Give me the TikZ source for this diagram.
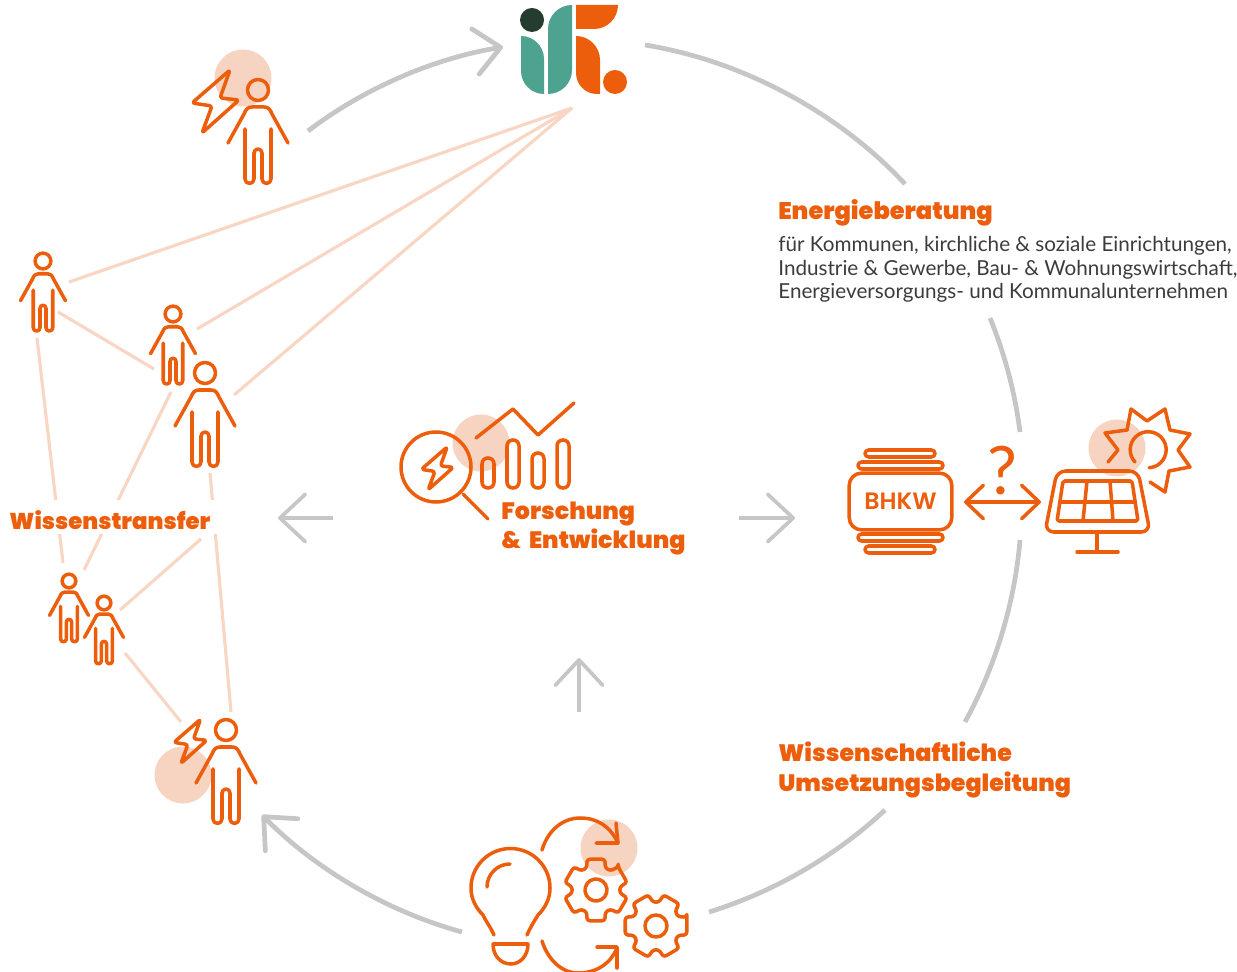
\documentclass[tikz,border=0pt]{standalone}
\usepackage{fontspec}
\setmainfont{Lato}
\newfontfamily\headfont{Poppins Black}
\newfontfamily\labelfont{Poppins SemiBold}
\usetikzlibrary{arrows.meta}
\definecolor{ifforange}{HTML}{EC5E0C}
\definecolor{iffpeach}{HTML}{F7D4C2}
\definecolor{iffline}{HTML}{F9D6C3}
\definecolor{iffgray}{HTML}{C6C6C6}
\definecolor{iffteal}{HTML}{4DA38F}
\definecolor{iffdark}{HTML}{243D30}
\definecolor{ifftext}{HTML}{3C3C3C}
\tikzset{
  icon/.style={ifforange, line width=2pt, line cap=round, line join=round},
  dot/.style={iffpeach, fill},
  peachline/.style={iffline, line width=1.8pt},
  bigarc/.style={iffgray, line width=2.7pt, looseness=0.85},
  smallarrow/.style={iffgray, line width=2.1pt, -{Straight Barb[length=14.5pt,width=27pt,round]}},
  head/.style={ifforange, inner sep=0pt, font=\headfont\fontsize{13.5}{16.7}\selectfont, align=left},
  person/.pic={
    \draw[icon] (0,0) circle (10.5);
    \draw[icon] (-30,53) -- (-14,24) .. controls (-12,19) and (-10,17) .. (-6,17)
      -- (6,17) .. controls (10,17) and (12,19) .. (14,24) -- (30,53);
    \draw[icon] (-13,39) -- (-13,89) arc[start angle=180,end angle=0,radius=4.5]
      -- (-4,63) arc[start angle=180,end angle=360,radius=4]
      -- (4,89) arc[start angle=180,end angle=0,radius=4.5] -- (13,39);
  },
  bolt/.pic={
    \draw[icon, rounded corners=1.5pt] (15,-31) -- (5,-3) -- (24,-1) -- (-13,32) -- (-3,5) -- (-23,2) -- cycle;
  },
  gear/.pic={
    \draw[icon, rounded corners=1.5pt] (-16:32) \foreach \a in {0,60,...,300}
      { -- (\a+16:32) -- (\a+23:24) -- (\a+37:24) -- (\a+44:32) } -- cycle;
    \draw[icon] (0,0) circle (11);
  }
}
\begin{document}
\begin{tikzpicture}[x=0.02cm,y=-0.02cm]
  \useasboundingbox (0,0) rectangle (1237,972);
  % circles behind the icons
  \fill[dot] (243,78) circle (28.5);
  \fill[dot] (183,775) circle (28.5);
  \fill[dot] (481,443) circle (28.5);
  \fill[dot] (1117,448) circle (28.5);
  \fill[dot] (609,848) circle (28.5);

  % network lines
  \coordinate (hub) at (572,108);
  \coordinate (a1) at (69,282);
  \coordinate (a2) at (58,312);
  \coordinate (a3) at (37,338);
  \coordinate (b1) at (197,329);
  \coordinate (b2) at (154,369);
  \coordinate (b3) at (171,392);
  \coordinate (c1) at (234,395);
  \coordinate (c2) at (210,473);
  \coordinate (d1) at (63,563);
  \coordinate (d2) at (84,570);
  \coordinate (d3) at (120,610);
  \coordinate (d4) at (125,653);
  \coordinate (w1) at (201,539);
  \coordinate (e1) at (181,722);
  \coordinate (e2) at (231,712);
  \draw[peachline] (hub) -- (a1);
  \draw[peachline] (hub) -- (b1);
  \draw[peachline] (hub) -- (c1);
  \draw[peachline] (a2) -- (b2);
  \draw[peachline] (a3) -- (d1);
  \draw[peachline] (b3) -- (d2);
  \draw[peachline] (c2) -- (e2);
  \draw[peachline] (d3) -- (w1);
  \draw[peachline] (d4) -- (e1);

  % big circle
  \coordinate (g1) at (645,45);
  \coordinate (g2) at (905,184);
  \coordinate (g3) at (990,318);
  \coordinate (g4) at (1020,432);
  \coordinate (g5) at (1020,540);
  \coordinate (g6) at (965,722);
  \coordinate (g7) at (885,810);
  \coordinate (g8) at (709,912);
  \coordinate (g9) at (462,932);
  \coordinate (g10) at (262,815);
  \coordinate (g11) at (308,131);
  \coordinate (g12) at (503,47);
  \draw[bigarc] (g1) to[bend left=19] (g2);
  \draw[bigarc] (g3) to[bend left=7.5] (g4);
  \draw[bigarc] (g5) to[bend left=12] (g6);
  \draw[bigarc] (g7) to[bend left=13] (g8);
  \draw[bigarc, -{Straight Barb[length=14.5pt,width=26pt,round]}] (g9) to[bend left=15] (g10);
  \draw[bigarc, -{Straight Barb[length=14.5pt,width=26pt,round]}] (g11) to[bend left=14] (g12);

  % arrows round the middle
  \coordinate (l1) at (333,518);
  \coordinate (l2) at (278,518);
  \coordinate (r1) at (739,518);
  \coordinate (r2) at (795,518);
  \coordinate (u1) at (579,712);
  \coordinate (u2) at (579,658);
  \draw[smallarrow] (l1) -- (l2);
  \draw[smallarrow] (r1) -- (r2);
  \draw[smallarrow] (u1) -- (u2);

  % logo
  \fill[iffdark] (532,20) circle (12);
  \fill[iffteal] (521,36) arc[start angle=270,end angle=360,radius=23] -- (544,94)
    arc[start angle=90,end angle=180,radius=23] -- cycle;
  \fill[iffteal] (572,5) arc[start angle=270,end angle=180,radius=24] -- (548,94)
    arc[start angle=90,end angle=0,radius=24] -- cycle;
  \fill[ifforange] (576,5) -- (618,5) arc[start angle=0,end angle=90,radius=24] -- (576,29) -- cycle;
  \fill[ifforange] (576,36) arc[start angle=270,end angle=360,radius=24] -- (600,94) -- (597,94)
    arc[start angle=90,end angle=180,radius=21] -- cycle;
  \fill[ifforange] (615,82) circle (12);

  % people
  \pic at (258,90) {person};
  \pic at (215,101) {bolt};
  \pic[scale=0.75] at (43,261) {person};
  \pic[scale=0.75] at (173,314) {person};
  \pic at (205,373) {person};
  \pic[scale=0.65] at (69,581) {person};
  \pic[scale=0.65] at (104,603) {person};
  \pic at (226,730) {person};
  \pic[scale=0.7] at (190,741) {bolt};

  % research
  \draw[icon] (436,467) circle (35);
  \pic[scale=0.68] at (437,468) {bolt};
  \coordinate (m1) at (463,494);
  \coordinate (m2) at (488,519);
  \draw[icon] (m1) -- (m2);
  \draw[icon] (476,438) -- (513,409) -- (538,435) -- (574,403);
  \draw[icon, rounded corners=3.3pt] (482,458) rectangle (494,488);
  \draw[icon, rounded corners=3.3pt] (507,440) rectangle (519,488);
  \draw[icon, rounded corners=3.3pt] (532,453) rectangle (544,488);
  \draw[icon, rounded corners=3.3pt] (557,440) rectangle (569,488);

  % BHKW
  \node[icon, draw, rounded corners=7pt, minimum width=58.4pt, minimum height=32.3pt, inner sep=0pt,
    font=\labelfont\fontsize{13.5}{16}\selectfont] (bhkw) at (900.5,501.5) {BHKW};
  \draw[icon, rounded corners=2pt] (865,450) rectangle (935,457);
  \draw[icon, rounded corners=2pt] (858,462) rectangle (943,469);
  \draw[icon, rounded corners=2pt] (858,534) rectangle (943,541);
  \draw[icon, rounded corners=2pt] (865,546) rectangle (935,553);
  \coordinate (q1) at (964,502);
  \coordinate (q2) at (1041,502);
  \draw[icon, {Straight Barb[length=10pt,width=19pt,round]}-{Straight Barb[length=10pt,width=19pt,round]}] (q1) -- (q2);
  \node[ifforange, inner sep=0pt, font=\fontsize{38}{40}\selectfont] (ask) at (1002,471) {?};

  % solar panel
  \draw[icon, rounded corners=5pt] (1057,471) -- (1138,471) -- (1150,532) -- (1045,532) -- cycle;
  \draw[icon, rounded corners=1pt] (1063,481) -- (1132,481) -- (1138,521) -- (1057,521) -- cycle;
  \draw[icon] (1060,502) -- (1135,502);
  \draw[icon] (1087,481) -- (1083,521);
  \draw[icon] (1110,481) -- (1113,521);
  \draw[icon] (1097,532) -- (1097,552);
  \draw[icon] (1077,552) -- (1118,552);
  \draw[icon] (1108,462) -- (1118,450) -- (1105,433) -- (1127,430) -- (1131,409) -- (1147,421)
    -- (1165,409) -- (1170,430) -- (1190,434) -- (1178,450) -- (1190,467) -- (1169,471)
    -- (1165,492) -- (1150,482);
  \draw[icon] (1135,462) arc[start angle=137,end angle=447,radius=18];

  % bulb and gears
  \draw[icon] (494,935) .. controls (490,926) and (485,920) .. (483,915)
    .. controls (476,908) and (471,899) .. (471,888)
    arc[start angle=180,end angle=360,radius=39.5]
    .. controls (550,899) and (545,908) .. (538,915)
    .. controls (535,920) and (531,926) .. (527,935);
  \draw[icon] (487,887) arc[start angle=180,end angle=270,radius=23];
  \draw[icon] (493,944) -- (528,944) .. controls (528,956) and (520,964) .. (511,964)
    .. controls (501,964) and (493,956) .. (493,944) -- cycle;
  \draw[icon] (542,850) .. controls (548,830) and (563,818) .. (580,818) .. controls (597,818) and (610,826) .. (618,843);
  \draw[icon] (596,843) -- (618,843) -- (616,823);
  \draw[icon] (542,941) .. controls (548,960) and (562,973) .. (578,973) .. controls (595,973) and (610,965) .. (617,948);
  \draw[icon] (597,947) -- (617,947) -- (617,968);
  \pic[rotate=30] at (596,890) {gear};
  \pic at (656,926) {gear};

  % texts
  \node[head, anchor=base west] (energie) at (778,220) {\fontsize{13.7}{16.7}\selectfont Energieberatung};
  \node[anchor=base west, inner sep=0pt, text=ifftext, align=left,
    font=\fontsize{11.76}{13.6}\selectfont] (kunden) at (778,299)
    {für Kommunen, kirchliche \& soziale Einrichtungen,\\
     Industrie \& Gewerbe, Bau- \& Wohnungswirtschaft,\\
     Energieversorgungs- und Kommunalunternehmen};
  \node[head, anchor=base west] (forschung) at (501,549) {Forschung\\\& \,Entwicklung};
  \node[head, anchor=base west] (umsetzung) at (778,791) {Wissenschaftliche\\Umsetzungsbegleitung};
  \node[head, anchor=base west, fill=white, inner xsep=4pt, inner ysep=0pt, text height=17pt, text depth=2pt] (wissen) at (2,530) {\fontsize{13}{16}\selectfont Wissenstransfer};
\end{tikzpicture}
\end{document}
